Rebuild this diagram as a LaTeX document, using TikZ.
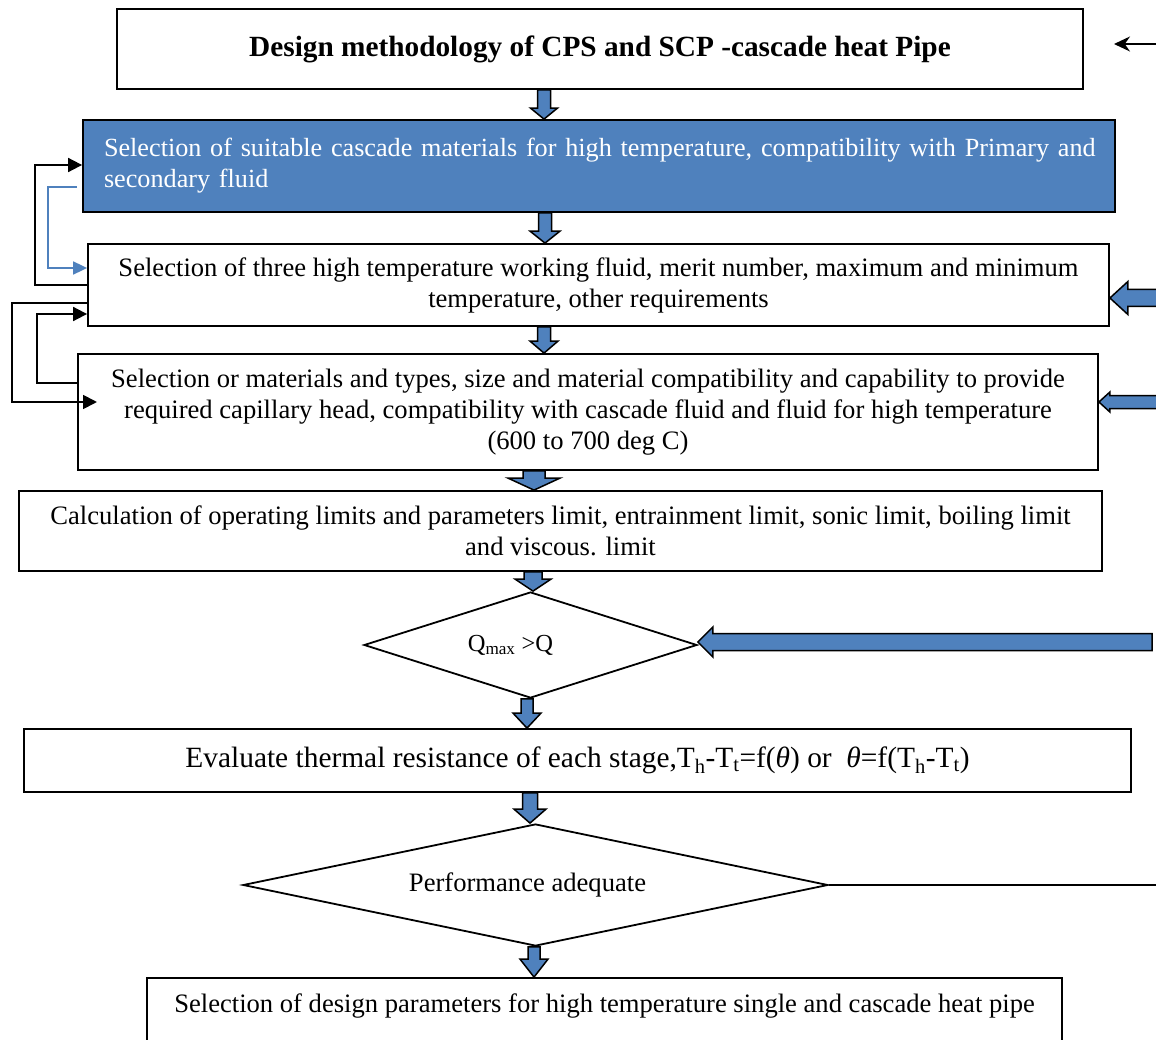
\documentclass[tikz,border=0pt]{standalone}
\usepackage{fontspec}
\setmainfont{Liberation Serif}
\usetikzlibrary{arrows.meta,shapes.geometric,calc}
\definecolor{ofblue}{RGB}{79,129,189}
\newcommand\fs{\fontsize{26.6}{31}\selectfont}
\newcommand\fsb{\fontsize{29.3}{31}\selectfont\bfseries}
\tikzset{
  x=1pt, y=-1pt,
  box/.style={draw=black, line width=1.8pt, fill=white, inner sep=0pt, align=center, font=\fs},
  dia/.style={draw=black, line width=1.8pt, fill=white, shape=diamond, inner sep=0pt, font=\fs},
  blk/.style={draw=black, fill=ofblue, line width=1.5pt, line join=miter},
  fb/.style={draw=black, line width=1.8pt, -{Triangle[length=14pt,width=14pt]}},
  fbblue/.style={draw=ofblue, line width=1.8pt, -{Triangle[length=14pt,width=13pt]}},
}
\newcommand\blkdown[6]{% #1 x, #2 top ref, #3 tip ref, #4 shaft half, #5 head half, #6 head length
  \path (#1,0 |- #2) coordinate (bt) (#1,0 |- #3) coordinate (bb);
  \draw[blk] (bb) -- ($(bb)+(-#5,-#6)$) -- ($(bb)+(-#4,-#6)$) -- ($(bt)+(-#4,0)$)
    -- ($(bt)+(#4,0)$) -- ($(bb)+(#4,-#6)$) -- ($(bb)+(#5,-#6)$) -- cycle;}
\newcommand\blkleft[6]{% #1 y, #2 tip ref, #3 tail x, #4 shaft half, #5 head half, #6 head length
  \path (#2 |- 0,#1) coordinate (bt) (#3,#1) coordinate (bl);
  \draw[blk] (bt) -- ($(bt)+(#6,-#5)$) -- ($(bt)+(#6,-#4)$) -- ($(bl)+(0,-#4)$)
    -- ($(bl)+(0,#4)$) -- ($(bt)+(#6,#4)$) -- ($(bt)+(#6,#5)$) -- cycle;}
\begin{document}
\begin{tikzpicture}
\useasboundingbox (0,0) rectangle (1156,1040);
\clip (0,0) rectangle (1156,1040);
\fill[white] (0,0) rectangle (1156,1040);

% boxes
\node[box, minimum width=966, minimum height=80, font=\fsb] (b1) at (600,49)
  {Design methodology of CPS and SCP -cascade heat Pipe};
\node[box, fill=ofblue, text=white, minimum width=1032, minimum height=92,
  text width=990, align=left, font=\fontsize{26.2}{31}\selectfont] (b2) at (599,166)
  {\mbox{Selection of suitable cascade materials for high temperature, compatibility with Primary and}\\ secondary fluid};
\node[box, minimum width=1021, minimum height=82] (b3) at (598.5,285)
  {Selection of three high temperature working fluid, merit number, maximum and minimum\\ temperature, other requirements};
\node[box, minimum width=1020, minimum height=116] (b4) at (588,412)
  {Selection or materials and types, size and material compatibility and capability to provide\\ required capillary head, compatibility with cascade fluid and fluid for high temperature\\ (600 to 700 deg C)};
\node[box, minimum width=1083, minimum height=80] (b5) at (560.5,531)
  {Calculation of operating limits and parameters limit, entrainment limit, sonic limit, boiling limit\\ and viscous. limit};
\node[dia, minimum width=333, minimum height=106, aspect=3.14, font=\fontsize{24.5}{28}\selectfont] (d1) at (530.5,645)
  {Q\textsubscript{max} >Q\hspace*{40pt}};
\node[box, minimum width=1107, minimum height=63, font=\fontsize{29.4}{31}\selectfont] (b7) at (577.5,760.5)
  {Evaluate thermal resistance of each stage,T\textsubscript{h}-T\textsubscript{t}=f({\itshape θ}) or\ \ {\itshape θ}=f(T\textsubscript{h}-T\textsubscript{t})};
\node[dia, minimum width=585, minimum height=122, aspect=4.8] (d2) at (535.5,885)
  {Performance adequate\hspace*{16pt}};
\node[box, minimum width=915, minimum height=90] (b9) at (604.5,1023)
  {Selection of design parameters for high temperature single and cascade heat pipe\\ \strut};

% vertical block arrows
\blkdown{544}{b1.south}{b2.north}{6.5}{13.5}{11}
\blkdown{545}{b2.south}{b3.north}{6.5}{15}{12}
\blkdown{544}{b3.south}{b4.north}{6.5}{14}{12}
\blkdown{534}{b4.south}{b5.north}{11}{26}{12}
\blkdown{533}{b5.south}{d1.north}{9}{18}{12}
\blkdown{527}{d1.south}{b7.north}{6}{14}{15}
\blkdown{530}{b7.south}{d2.north}{7.5}{16}{14}
\blkdown{534}{d2.south}{b9.north}{6}{14}{18}

% right side inputs
\coordinate (rin) at (1156,44);
\coordinate (rtip) at (1114,44);
\draw[line width=1.8pt, -{Stealth[length=16pt,width=15pt]}] (rin) -- (rtip);
\blkleft{298}{b3.east}{1175}{8.5}{16.5}{18}
\blkleft{402}{b4.east}{1175}{6.5}{10}{11}
\blkleft{642}{d1.east}{1152}{8.5}{15}{15}
\coordinate (rout) at (1160,885);
\draw[line width=1.8pt] (d2.east) -- (rout);

% left feedback loops
\draw[fb] (b3.west |- 0,285) -- (35,285) -- (35,165) -- (b2.west |- 0,165);
\coordinate (bstart) at (77,187);
\draw[fbblue] (bstart) -- (48,187) -- (48,268) -- (b3.west |- 0,268);
\draw[fb] (b4.west |- 0,383) -- (37,383) -- (37,314) -- (b3.west |- 0,314);
\coordinate (b4in) at (97,402);
\draw[fb] (b3.west |- 0,303) -- (12,303) -- (12,402) -- (b4in);
\end{tikzpicture}
\end{document}
